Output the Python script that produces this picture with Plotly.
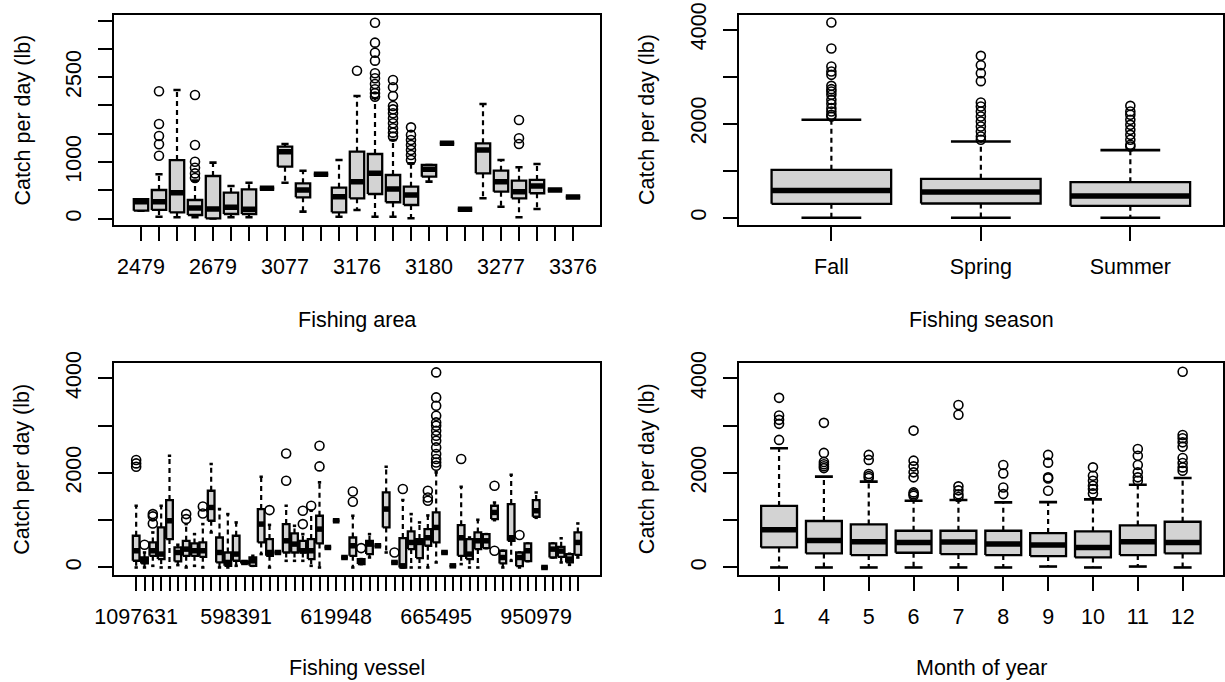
import plotly.graph_objects as go

# ---------------- data ----------------
area_labels = ["2479", "2480", "2578", "2579", "2679", "2680", "2778", "2779", "3077", "3078",
               "3079", "3175", "3176", "3177", "3178", "3179", "3180", "3181", "3275", "3276",
               "3277", "3278", "3279", "3375", "3376"]
area_lo = [140, 35, 25, 25, 5, 25, 25, 537, 636, 124, 784, 35, 154, 35, 35, 7, 654, 1332, 166, 360, 212, 25, 171, 507, 383]
area_q1 = [141, 154, 113, 65, 7, 83, 83, 537, 919, 378, 784, 113, 360, 436, 290, 242, 742, 1332, 166, 802, 477, 360, 449, 507, 383]
area_med = [300, 300, 460, 189, 171, 201, 166, 537, 1184, 507, 784, 389, 654, 802, 525, 419, 872, 1332, 166, 1214, 654, 477, 578, 507, 383]
area_q3 = [343, 507, 1035, 330, 754, 460, 519, 537, 1272, 625, 784, 548, 1184, 1143, 772, 565, 949, 1332, 166, 1332, 848, 672, 684, 507, 383]
area_hi = [343, 784, 2274, 672, 990, 578, 636, 537, 1320, 848, 784, 1037, 2168, 2127, 1390, 978, 949, 1332, 166, 2027, 1037, 908, 966, 507, 383]
area_out = [[], [2251, 1673, 1461, 1314, 1113], [], [2185, 1302, 1007, 900, 800, 720], [], [], [], [], [], [],
            [], [], [2615], [3463, 3110, 2933, 2792, 2569, 2480, 2380, 2286, 2216, 2156],
            [2450, 2321, 2168, 1991, 1932, 1862, 1774, 1685, 1597, 1520, 1450],
            [1614, 1480, 1391, 1303, 1214, 1126, 1037], [], [], [], [], [], [1744, 1420, 1320], [], [], []]

season_labels = ["Fall", "Spring", "Summer"]
season_lo = [0, 0, 0]
season_q1 = [297, 304, 255]
season_med = [580, 546, 461]
season_q3 = [1020, 828, 758]
season_hi = [2082, 1621, 1438]
season_out = [[4148, 3596, 3214, 3108, 3037, 2804, 2733, 2683, 2613, 2506, 2421, 2330, 2258, 2188, 2150],
              [3441, 3243, 3073, 2903, 2449, 2364, 2258, 2152, 2046, 1939, 1833, 1727, 1657],
              [2379, 2258, 2188, 2082, 1975, 1869, 1763, 1657, 1551, 1514]]

vessel_labels = ["1097631", "1104712", "1132406", "1179508", "1205734", "1238119", "246509", "250817", "284416",
                 "503129", "541378", "584470", "598391", "600213", "602657", "604118", "606943", "608520",
                 "610077", "611894", "613305", "615562", "617230", "618411", "619948", "621036", "624519",
                 "627781", "630254", "633917", "637402", "640885", "645126", "649330", "653871", "658204",
                 "665495", "668132", "672950", "681447", "690318", "702586", "715964", "739201", "768843",
                 "802417", "851390", "902716", "950979", "953288", "961045", "970532", "984117", "996260"]
vessel_lo = [0, 0, 35, 0, 0, 50, 0, 35, 0, 740, 0, 0, 35, 85, 35, 283, 0, 317, 141, 141, 141, 35, 0, 423, 987, 211, 0,
             71, 211, 459, 317, 106, 0, 0, 0, 0, 106, 317, 35, 71, 0, 0, 409, 1000, 0, 141, 0, 134, 1050, 0, 211, 106, 56, 211]
vessel_q1 = [142, 85, 247, 177, 600, 127, 247, 247, 226, 987, 106, 35, 142, 85, 35, 529, 247, 317, 317, 317, 317, 177,
             508, 423, 987, 211, 247, 71, 283, 459, 846, 106, 0, 388, 198, 459, 529, 317, 35, 247, 177, 388, 409, 1022,
             85, 564, 28, 134, 1072, 0, 211, 226, 106, 268]
vessel_med = [353, 141, 353, 283, 987, 317, 388, 353, 353, 1269, 317, 106, 283, 106, 141, 917, 317, 317, 564, 494, 353,
              353, 811, 423, 987, 211, 459, 141, 494, 459, 1234, 106, 35, 529, 529, 628, 846, 317, 35, 628, 283, 564,
              564, 1163, 211, 628, 211, 353, 1199, 0, 388, 346, 177, 529]
vessel_q3 = [670, 211, 529, 846, 1425, 423, 564, 508, 529, 1621, 634, 317, 670, 127, 211, 1234, 600, 317, 917, 719, 564,
             600, 1093, 423, 987, 211, 634, 177, 564, 459, 1586, 106, 621, 761, 600, 811, 1163, 317, 35, 895, 600, 740,
             705, 1304, 353, 1340, 317, 508, 1425, 0, 508, 437, 283, 740]
vessel_hi = [1304, 317, 740, 1304, 2362, 480, 917, 705, 917, 2186, 1234, 1128, 952, 127, 247, 1918, 900, 317, 1304, 881,
             705, 1199, 1798, 423, 987, 211, 1093, 177, 705, 459, 2129, 106, 1425, 1128, 952, 1100, 2009, 317, 35, 1705,
             634, 1008, 705, 1374, 353, 1960, 317, 508, 1586, 0, 508, 617, 290, 930]
vessel_out = [[2270, 2200, 2130], [480], [1128, 1080, 930], [], [], [], [1128, 1022], [], [1290, 1142], [], [], [], [],
              [], [], [], [1213], [], [2410, 1833], [], [1199, 917], [1304], [2573, 2136], [], [], [], [1607, 1389],
              [409], [], [], [], [317], [1657], [], [], [1621, 1480, 1410],
              [4123, 3594, 3418, 3207, 3066, 2996, 2890, 2784, 2678, 2538, 2397, 2291, 2220, 2150],
              [], [], [2291], [], [], [], [1727, 353], [], [], [685], [], [], [], [], [], [], []]

month_labels = ["1", "4", "5", "6", "7", "8", "9", "10", "11", "12"]
month_lo = [0, 0, 0, 0, 0, 0, 20, 0, 20, 0]
month_q1 = [423, 296, 262, 311, 283, 262, 240, 212, 262, 296]
month_med = [798, 571, 544, 529, 536, 494, 473, 423, 544, 529]
month_q3 = [1300, 982, 910, 776, 776, 776, 727, 762, 888, 966]
month_hi = [2519, 1920, 1814, 1411, 1425, 1375, 1381, 1439, 1748, 1890]
month_out = [[3585, 3211, 3120, 3035, 2696], [3056, 2421, 2230, 2180, 2140, 2100], [2379, 2273, 1975, 1930, 1892],
             [2893, 2258, 2137, 2010, 1905, 1587, 1550, 1517], [3433, 3228, 1714, 1630, 1545, 1490],
             [2165, 1988, 1691, 1551], [2379, 2215, 1905, 1880, 1622], [2116, 1940, 1834, 1728, 1657, 1565],
             [2503, 2362, 2165, 2010, 1905, 1834], [4137, 2800, 2730, 2644, 2553, 2313, 2207, 2115, 2045]]

# ---------------- styling ----------------
FONT = "Liberation Sans, Arial, sans-serif"
FS = 21.5
W, H = 1225, 682
BOXFILL = "#d3d3d3"

fig = go.Figure()


def add_panel(xa, ya, lo, q1, med, q3, hi, out, wex=0.8):
    w = wex / 2
    bx, by, mx, my, wx, wy, sx, sy, ox, oy = [], [], [], [], [], [], [], [], [], []
    for i in range(len(med)):
        wx += [i, i, None, i, i, None]
        wy += [q3[i], hi[i], None, q1[i], lo[i], None]
        sx += [i - w / 2, i + w / 2, None, i - w / 2, i + w / 2, None]
        sy += [hi[i], hi[i], None, lo[i], lo[i], None]
        bx += [i - w, i + w, i + w, i - w, i - w, None]
        by += [q1[i], q1[i], q3[i], q3[i], q1[i], None]
        mx += [i - w, i + w, None]
        my += [med[i], med[i], None]
        for v in out[i]:
            ox.append(i)
            oy.append(v)
    common = dict(xaxis=xa, yaxis=ya, hoverinfo="skip", showlegend=False)
    fig.add_trace(go.Scatter(x=wx, y=wy, mode="lines", line=dict(color="black", width=2.2, dash="5px,4px"), **common))
    fig.add_trace(go.Scatter(x=sx, y=sy, mode="lines", line=dict(color="black", width=2.6), **common))
    fig.add_trace(go.Scatter(x=bx, y=by, mode="lines", fill="toself", fillcolor=BOXFILL,
                             line=dict(color="black", width=2.3), **common))
    fig.add_trace(go.Scatter(x=mx, y=my, mode="lines", line=dict(color="black", width=5.5), **common))
    fig.add_trace(go.Scatter(x=ox, y=oy, mode="markers",
                             marker=dict(symbol="circle-open", size=9, color="black", line=dict(width=1.6)), **common))


add_panel("x", "y", area_lo, area_q1, area_med, area_q3, area_hi, area_out)
add_panel("x2", "y2", season_lo, season_q1, season_med, season_q3, season_hi, season_out)
add_panel("x3", "y3", vessel_lo, vessel_q1, vessel_med, vessel_q3, vessel_hi, vessel_out)
add_panel("x4", "y4", month_lo, month_q1, month_med, month_q3, month_hi, month_out)

LX = [114 / W, 600 / W]
RX = [738.7 / W, 1223 / W]
TY = [1 - 225.3 / H, 1 - 14.7 / H]
BY = [1 - 575 / H, 1 - 363.3 / H]


def xaxis(dom, anchor, labels, every, rng):
    return dict(domain=dom, anchor=anchor, range=rng, automargin=False,
                tickvals=list(range(len(labels))),
                ticktext=[lab if i % every == 0 else "" for i, lab in enumerate(labels)],
                ticks="outside", ticklen=14, tickwidth=2, tickcolor="black",
                showline=True, mirror=True, linewidth=2, linecolor="black",
                showgrid=False, zeroline=False, ticklabelstandoff=7,
                tickfont=dict(family=FONT, size=FS, color="black"))


def yaxis(dom, anchor, vals, shown, rng):
    return dict(domain=dom, anchor=anchor, range=rng, tickvals=vals, automargin=False,
                ticktext=[str(v) if v in shown else "" for v in vals],
                tickangle=-90, ticks="outside", ticklen=14, tickwidth=2, tickcolor="black",
                showline=True, mirror=True, linewidth=2, linecolor="black",
                showgrid=False, zeroline=False, ticklabelstandoff=8,
                tickfont=dict(family=FONT, size=FS, color="black"))


fig.update_layout(
    template="none",
    width=W, height=H, margin=dict(l=0, r=0, t=0, b=0, autoexpand=False),
    paper_bgcolor="white", plot_bgcolor="white", showlegend=False,
    xaxis=xaxis(LX, "y", area_labels, 4, [-1.5, 25.5]),
    yaxis=yaxis(TY, "x", [0, 500, 1000, 1500, 2000, 2500, 3000, 3500], [0, 1000, 2500], [-117, 3604]),
    xaxis2=xaxis(RX, "y2", season_labels, 1, [-0.62, 2.62]),
    yaxis2=yaxis(TY, "x2", [0, 1000, 2000, 3000, 4000], [0, 2000, 4000], [-159, 4315]),
    xaxis3=xaxis(LX, "y3", vessel_labels, 12, [-2.66, 55.66]),
    yaxis3=yaxis(BY, "x3", [0, 1000, 2000, 3000, 4000], [0, 2000, 4000], [-159, 4315]),
    xaxis4=xaxis(RX, "y4", month_labels, 1, [-0.9, 9.9]),
    yaxis4=yaxis(BY, "x4", [0, 1000, 2000, 3000, 4000], [0, 2000, 4000], [-159, 4315]),
)

ann_font = dict(family=FONT, size=FS, color="black")
titles = [
    ("Catch per day (lb)", 22.6, (TY[0] + TY[1]) / 2, -90),
    ("Catch per day (lb)", 647, (TY[0] + TY[1]) / 2, -90),
    ("Catch per day (lb)", 22.6, (BY[0] + BY[1]) / 2, -90),
    ("Catch per day (lb)", 647, (BY[0] + BY[1]) / 2, -90),
    ("Fishing area", 357, 1 - 320 / H, 0),
    ("Fishing season", 981, 1 - 320 / H, 0),
    ("Fishing vessel", 357, 1 - 668 / H, 0),
    ("Month of year", 981, 1 - 668 / H, 0),
]
for text, xp, yp, ang in titles:
    fig.add_annotation(text=text, x=xp / W, y=yp, xref="paper", yref="paper", showarrow=False,
                       textangle=ang, xanchor="center", yanchor="middle", font=ann_font)

fig.write_html("out.html")
